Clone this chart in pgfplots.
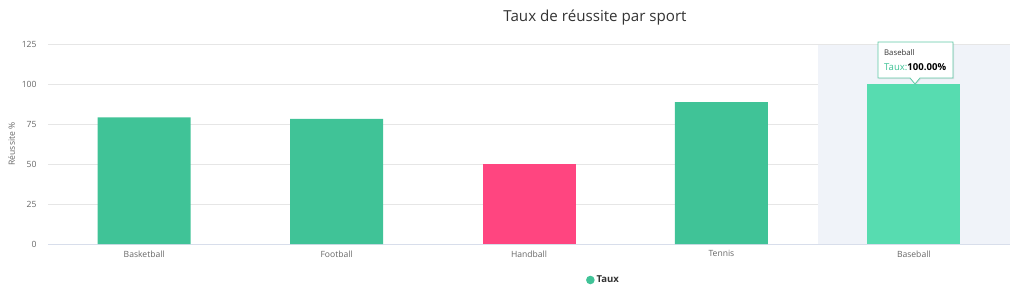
\documentclass[border=0pt]{standalone}
\usepackage{pgfplots}
\pgfplotsset{compat=1.18}
\usepackage{fontspec}
\setmainfont{Open Sans}
\usetikzlibrary{shadows}
\definecolor{barg}{HTML}{40C397}
\definecolor{barp}{HTML}{FF4580}
\definecolor{barh}{HTML}{57DCB0}
\definecolor{band}{HTML}{F0F3F9}
\definecolor{gridc}{HTML}{E6E6E6}
\definecolor{axc}{HTML}{D8DEEB}
\definecolor{txt}{HTML}{666666}
\definecolor{ttl}{HTML}{333333}
\begin{document}
\begin{tikzpicture}[x=1bp,y=1bp]
\path[use as bounding box] (0,0) rectangle (1024,307);
\begin{axis}[
  at={(48bp,63bp)}, anchor=south west,
  scale only axis, width=962bp, height=200bp,
  xmin=-0.5, xmax=4.5, ymin=0, ymax=125,
  ytick={0,25,50,75,100,125},
  xtick={0,1,2,3,4},
  xticklabels={Basketball,Football,Handball,Tennis,Baseball},
  axis line style={draw=none},
  axis x line*=bottom,
  x axis line style={draw=axc},
  axis y line*=left,
  ymajorgrids, grid style={gridc, line width=0.8bp},
  major tick length=0pt,
  tick label style={font=\fontsize{8.6}{10}\selectfont, text=txt},
  yticklabel style={xshift=-8bp},
  xticklabel style={yshift=-3bp},
  ylabel={Réussite \%},
  every axis y label/.style={at={(ticklabel cs:0.5)}, rotate=90, anchor=south, font=\fontsize{8.6}{10}\selectfont, text=txt},
  ybar, bar width=93bp, bar shift=0pt,
  /pgf/number format/assume math mode=true,
  legend style={draw=none, fill=none, at={(0.556,-0.18)}, anchor=west,
    font=\fontsize{9.6}{11}\selectfont\bfseries, text=ttl},
  legend image code/.code={\fill[barg] (0.1cm,0) circle (4.3bp);},
  clip=false,
]
\fill[band] (axis cs:3.5,0) rectangle (axis cs:4.5,125);
\draw[gridc, line width=0.8bp] (axis cs:3.5,125) -- (axis cs:4.5,125);
\addplot[fill=barg, draw=none] coordinates {(0,79.1) (1,78.2) (3,88.7)};
\addlegendentry{Taux}
\addplot[fill=barp, draw=none, forget plot] coordinates {(2,50)};
\addplot[fill=barh, draw=none, forget plot] coordinates {(4,100)};
\end{axis}
\node[font=\fontsize{15.2}{17}\selectfont, text=ttl] at (595,289) {Taux de réussite par sport};
% tooltip
\draw[barh!80!gray, fill=white, line width=0.8bp, drop shadow={opacity=0.15, shadow xshift=1bp, shadow yshift=-1bp}]
  (878,265) -- (953,265) -- (953,229) -- (920,229) -- (915,223) -- (910,229) -- (878,229) -- cycle;
\node[anchor=west, font=\fontsize{7.8}{9}\selectfont, text=ttl, inner sep=0pt] at (884,254) {Baseball};
\node[anchor=west, font=\fontsize{9.6}{11}\selectfont, inner sep=0pt] at (884,240) {\textcolor{barg}{Taux:}\textcolor{black}{\bfseries 100.00\%}};
\end{tikzpicture}
\end{document}
